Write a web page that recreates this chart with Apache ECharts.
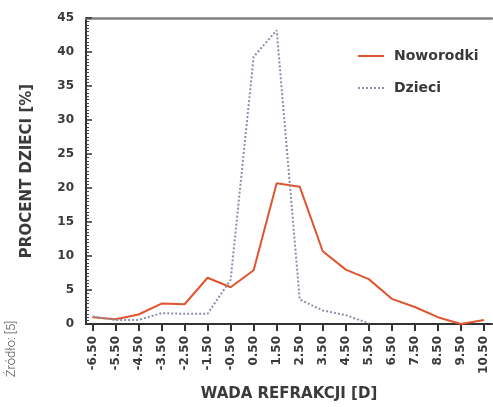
<!DOCTYPE html>
<html>
<head>
<meta charset="utf-8">
<script src="https://cdn.jsdelivr.net/npm/echarts@6/dist/echarts.min.js"></script>
<style>html,body{margin:0;padding:0;background:#fff;}#c{width:493px;height:407px;}</style>
</head>
<body>
<div id="c"></div>
<script>
var categories = ['-6.50','-5.50','-4.50','-3.50','-2.50','-1.50','-0.50','0.50','1.50','2.50','3.50','4.50','5.50','6.50','7.50','8.50','9.50','10.50'];
var noworodki = [1.0, 0.7, 1.4, 3.0, 2.9, 6.8, 5.4, 7.9, 20.7, 20.2, 10.7, 8.0, 6.6, 3.7, 2.5, 1.0, 0.0, 0.6];
var dzieci = [1.1, 0.6, 0.6, 1.6, 1.5, 1.5, 6.5, 39.3, 43.2, 3.6, 2.0, 1.3, 0.1, null, null, null, null, null];
var yTicks = [0,5,10,15,20,25,30,35,40,45];

var xVals = categories.map(function(c){ return parseFloat(c); });
function toPairs(arr){ return arr.map(function(v,i){ return v === null ? null : [xVals[i], v]; }).filter(function(p){ return p; }); }

var font = 'DejaVu Sans';
var txt = '#3a3a3a';
var chart = echarts.init(document.getElementById('c'), null, {renderer:'canvas'});
chart.setOption({
  animation: false,
  backgroundColor: '#fff',
  grid: {left: 86, right: 1, top: 18, bottom: 80},
  legend: {
    orient: 'vertical', left: 357, top: 49, padding: 0, itemWidth: 26, itemHeight: 14, itemGap: 18,
    itemStyle: {opacity: 0},
    textStyle: {fontFamily: font, fontWeight: 'bold', fontSize: 14, color: txt, padding: [0,0,0,5]},
    data: ['Noworodki','Dzieci']
  },
  xAxis: [{
    type: 'value', min: -6.78, max: 10.85,
    name: 'WADA REFRAKCJI [D]', nameLocation: 'middle', nameGap: 63,
    nameTextStyle: {fontFamily: font, fontWeight: 'bold', fontSize: 15, color: txt},
    axisLine: {show: true, onZero: false, lineStyle: {color: '#333', width: 2}},
    axisTick: {show: true, length: 7, inside: false, customValues: xVals, lineStyle: {color: '#333', width: 2}},
    axisLabel: {show: true, rotate: 90, margin: 12, customValues: xVals, fontFamily: font, fontWeight: 'bold', fontSize: 12, color: txt,
      formatter: function(v){ var i = xVals.indexOf(v); return i >= 0 ? categories[i] : ''; }},
    splitLine: {show: false}
  }, {
    type: 'value', position: 'top', min: -6.78, max: 10.85,
    axisLine: {show: true, onZero: false, lineStyle: {color: '#808080', width: 2.5}},
    axisTick: {show: false}, axisLabel: {show: false}, splitLine: {show: false}
  }],
  yAxis: {
    type: 'value', min: 0, max: 45, interval: 5,
    name: 'PROCENT DZIECI [%]', nameLocation: 'middle', nameGap: 51, nameRotate: 90,
    nameTextStyle: {fontFamily: font, fontWeight: 'bold', fontSize: 15, color: txt},
    axisLine: {show: true, onZero: false, lineStyle: {color: '#333', width: 2}},
    axisTick: {show: true, inside: true, length: 6, lineStyle: {color: '#333', width: 1.5}},
    minorTick: {show: true, splitNumber: 10, length: 3, lineStyle: {color: '#444', width: 1}},
    axisLabel: {margin: 12, fontFamily: font, fontWeight: 'bold', fontSize: 12, color: txt,
      customValues: yTicks},
    splitLine: {show: false}
  },
  series: [{
    name: 'Noworodki', type: 'line', symbol: 'none', data: toPairs(noworodki),
    lineStyle: {color: '#e0552f', width: 2}, itemStyle: {color: '#e0552f'}
  }, {
    name: 'Dzieci', type: 'line', symbol: 'none', data: toPairs(dzieci),
    lineStyle: {color: '#8a90aa', width: 2, type: [2,2]}, itemStyle: {color: '#8a90aa'}
  }],
  graphic: [{
    type: 'text', x: 12, y: 349, rotation: Math.PI/2,
    style: {text: 'Źródło: [5]', fontFamily: 'Roboto', fontWeight: 300, fontSize: 13, fill: '#555', align: 'center', verticalAlign: 'middle'}
  }]
});
</script>
</body>
</html>
